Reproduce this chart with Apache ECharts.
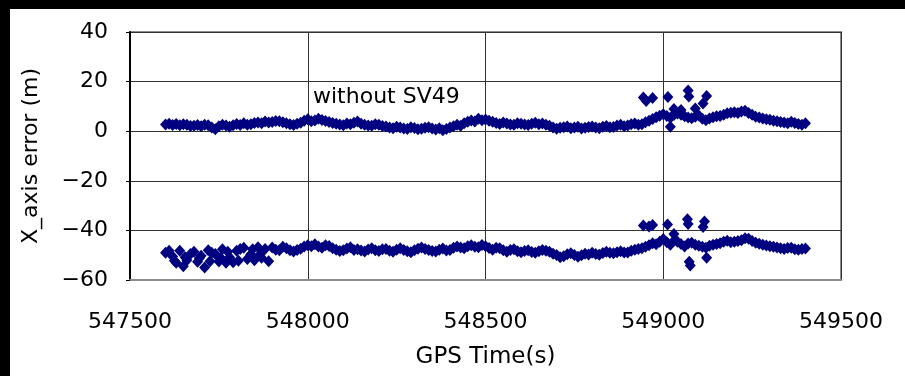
<!DOCTYPE html>
<html>
<head>
<meta charset="utf-8">
<script src="https://cdn.jsdelivr.net/npm/echarts@6/dist/echarts.min.js"></script>
<style>
  html, body { margin: 0; padding: 0; background: #fff; }
  #chart { width: 905px; height: 376px; }
</style>
</head>
<body>
<div id="chart"></div>
<script>
// GPS time of each regular fix (s), one every 10 s
const sampleTime = [
  547600,547610,547620,547630,547640,547650,547660,547670,547680,547690,
  547700,547710,547720,547730,547740,547750,547760,547770,547780,547790,
  547800,547810,547820,547830,547840,547850,547860,547870,547880,547890,
  547900,547910,547920,547930,547940,547950,547960,547970,547980,547990,
  548000,548010,548020,548030,548040,548050,548060,548070,548080,548090,
  548100,548110,548120,548130,548140,548150,548160,548170,548180,548190,
  548200,548210,548220,548230,548240,548250,548260,548270,548280,548290,
  548300,548310,548320,548330,548340,548350,548360,548370,548380,548390,
  548400,548410,548420,548430,548440,548450,548460,548470,548480,548490,
  548500,548510,548520,548530,548540,548550,548560,548570,548580,548590,
  548600,548610,548620,548630,548640,548650,548660,548670,548680,548690,
  548700,548710,548720,548730,548740,548750,548760,548770,548780,548790,
  548800,548810,548820,548830,548840,548850,548860,548870,548880,548890,
  548900,548910,548920,548930,548940,548950,548960,548970,548980,548990,
  549000,549010,549020,549030,549040,549050,549060,549070,549080,549090,
  549100,549110,549120,549130,549140,549150,549160,549170,549180,549190,
  549200,549210,549220,549230,549240,549250,549260,549270,549280,549290,
  549300,549310,549320,549330,549340,549350,549360,549370,549380,549390,
  549400
];

// X-axis error without SV49 (m)
const upperError = [
  2.7,3.0,2.5,2.9,2.4,2.8,2.6,2.1,2.2,2.5,
  2.0,2.6,2.4,1.5,0.8,2.0,2.6,2.3,1.8,2.4,
  2.9,2.5,3.2,2.6,2.8,3.3,3.5,3.2,3.9,3.5,
  3.7,4.1,4.0,3.6,3.2,2.8,2.5,3.0,3.4,4.2,
  4.8,4.0,4.3,5.0,4.5,4.1,3.7,3.3,3.0,2.7,
  2.4,3.1,2.8,3.4,3.9,3.0,2.6,2.3,2.2,2.8,
  2.6,2.1,1.9,1.5,1.2,1.8,1.5,1.1,0.9,1.6,
  1.3,0.8,1.0,1.4,1.6,1.1,0.7,1.2,0.4,0.9,
  1.5,2.0,2.6,2.2,3.2,3.8,4.3,3.9,5.0,4.4,
  4.7,4.2,3.8,3.3,2.9,3.5,3.1,2.7,2.6,3.2,
  3.0,2.7,2.5,3.0,3.4,2.8,3.1,2.6,2.2,1.5,
  1.0,1.4,1.6,1.9,1.2,1.5,1.8,1.1,1.4,1.7,
  1.9,1.5,1.2,1.8,2.1,1.6,1.7,2.3,2.6,2.0,
  2.3,2.8,3.1,2.6,2.8,3.6,4.2,4.9,5.6,6.2,
  6.8,6.1,5.4,6.5,7.1,6.6,6.0,5.5,5.2,5.8,
  6.3,5.0,4.4,5.1,5.6,6.0,6.1,6.6,7.2,7.4,
  7.6,7.3,7.9,8.2,7.3,6.6,5.8,5.5,5.1,4.8,
  4.6,4.2,4.0,3.7,3.5,3.2,3.8,3.3,2.9,2.6,
  3.2
];

// X-axis error with SV49 (m)
const lowerError = [
  -49.0,-48.2,-50.5,-53.0,-48.2,-54.5,-52.0,-49.5,-48.6,-52.6,
  -50.2,-55.0,-48.0,-49.0,-49.5,-52.5,-47.6,-53.0,-50.8,-52.8,
  -48.2,-47.5,-47.0,-51.5,-49.6,-52.0,-46.8,-51.0,-47.5,-52.4,
  -46.9,-47.8,-48.0,-46.6,-47.2,-48.0,-48.5,-47.9,-47.4,-46.5,
  -46.0,-46.4,-45.6,-46.5,-47.0,-46.0,-46.3,-47.2,-47.8,-48.3,
  -48.0,-47.3,-46.8,-47.9,-47.6,-48.1,-48.5,-47.7,-47.2,-48.0,
  -48.3,-47.6,-47.5,-48.2,-48.6,-47.8,-47.2,-47.9,-48.4,-48.8,
  -48.0,-47.4,-46.9,-47.5,-47.9,-48.3,-48.5,-47.8,-47.3,-48.1,
  -47.9,-47.0,-46.5,-46.9,-47.2,-46.4,-46.0,-46.6,-46.8,-45.9,
  -46.4,-47.1,-47.8,-47.0,-47.2,-48.0,-48.6,-47.9,-47.6,-48.4,
  -48.8,-48.3,-48.0,-48.7,-49.0,-48.4,-47.9,-48.2,-48.6,-49.4,
  -49.9,-50.8,-50.4,-49.6,-49.2,-49.9,-50.6,-50.0,-49.4,-49.7,
  -49.0,-49.5,-49.8,-49.1,-48.6,-49.0,-49.2,-48.8,-48.4,-48.9,
  -48.9,-48.2,-47.8,-47.5,-47.2,-46.6,-46.0,-45.2,-45.6,-44.6,
  -43.5,-44.8,-45.8,-44.2,-44.6,-45.5,-46.5,-45.3,-45.0,-45.8,
  -46.2,-46.6,-47.0,-46.2,-45.8,-45.5,-45.2,-44.6,-44.2,-44.8,
  -44.6,-44.3,-44.0,-43.2,-43.4,-44.3,-45.0,-45.4,-45.8,-46.1,
  -46.4,-46.6,-46.9,-47.2,-47.5,-47.1,-47.0,-47.6,-47.8,-47.5,
  -47.3
];

// Isolated fixes around 549000 s
const upperExtraTime  = [548944, 548952, 548970, 549013, 549020, 549030, 549050, 549070, 549072, 549090, 549112, 549122];
const upperExtraError = [13.6, 12.2, 13.4, 13.8, 1.8, 9.0, 8.5, 16.4, 14.0, 9.2, 11.2, 14.2];

const lowerExtraTime  = [547625, 547655, 547695, 547725, 547755, 547775, 547805, 547845, 547865,
                         548944, 548960, 548970, 549012, 549030, 549068, 549070, 549073, 549076, 549112, 549116, 549122];
const lowerExtraError = [-52.2, -50.8, -51.2, -52.4, -51.0, -48.6, -52.2, -47.6, -49.8,
                         -38.0, -38.4, -37.8, -37.6, -41.5, -35.5, -37.4, -52.6, -54.2, -38.6, -36.4, -51.0];

// Axis ranges and tick spacing
const xTicks = { min: 547500, max: 549500, step: 500 };
const yTicks = { min: -60, max: 40, step: 20 };

function pairs(ts, vs) { return ts.map((t, i) => [t, vs[i]]); }

const upperData = pairs(sampleTime, upperError).concat(pairs(upperExtraTime, upperExtraError));
const lowerData = pairs(sampleTime, lowerError).concat(pairs(lowerExtraTime, lowerExtraError));

const FONT = 'DejaVu Sans';
const MARK = '#000080';

const chart = echarts.init(document.getElementById('chart'), null, { renderer: 'canvas' });
chart.setOption({
  backgroundColor: '#ffffff',
  animation: false,
  grid: {
    left: 130, right: 64, top: 32, bottom: 96,
    show: true, borderColor: '#8c8c8c', borderWidth: 2, backgroundColor: '#ffffff'
  },
  xAxis: {
    type: 'value',
    min: xTicks.min, max: xTicks.max, interval: xTicks.step,
    name: 'GPS Time(s)',
    nameLocation: 'middle',
    nameGap: 66,
    nameTextStyle: { color: '#000', fontFamily: FONT, fontSize: 23 },
    axisLine: { show: true, onZero: false, lineStyle: { color: '#8c8c8c', width: 2 } },
    axisTick: { show: false },
    axisLabel: {
      color: '#000', fontFamily: FONT, fontSize: 22, margin: 31,
      formatter: v => String(v)
    },
    splitLine: { show: true, lineStyle: { color: '#333', width: 1 } }
  },
  yAxis: {
    type: 'value',
    min: yTicks.min, max: yTicks.max, interval: yTicks.step,
    name: 'X_axis error (m)',
    nameLocation: 'middle',
    nameGap: 88,
    nameRotate: 90,
    nameTextStyle: { color: '#000', fontFamily: FONT, fontSize: 22 },
    axisLine: { show: true, lineStyle: { color: '#000', width: 2 } },
    axisTick: { show: true, length: 4, lineStyle: { color: '#000' } },
    axisLabel: {
      color: '#000', fontFamily: FONT, fontSize: 22, margin: 22,
      formatter: v => String(v).replace('-', '\u2212')
    },
    splitLine: { show: true, lineStyle: { color: '#333', width: 1 } }
  },
  graphic: [
    { type: 'rect', left: 0, top: 0, shape: { width: 905, height: 9 }, style: { fill: '#000' }, z: 100 },
    { type: 'rect', left: 0, top: 0, shape: { width: 10, height: 376 }, style: { fill: '#000' }, z: 100 },
    {
      type: 'text', left: 313, top: 86, z: 50,
      style: { text: 'without SV49', fill: '#000', font: '22px "DejaVu Sans"' }
    }
  ],
  series: [
    {
      name: 'without SV49', type: 'scatter', symbol: 'diamond', symbolSize: [11, 12],
      itemStyle: { color: MARK, opacity: 1 }, data: upperData
    },
    {
      name: 'with SV49', type: 'scatter', symbol: 'diamond', symbolSize: [11, 12],
      itemStyle: { color: MARK, opacity: 1 }, data: lowerData
    }
  ]
});
</script>
</body>
</html>
